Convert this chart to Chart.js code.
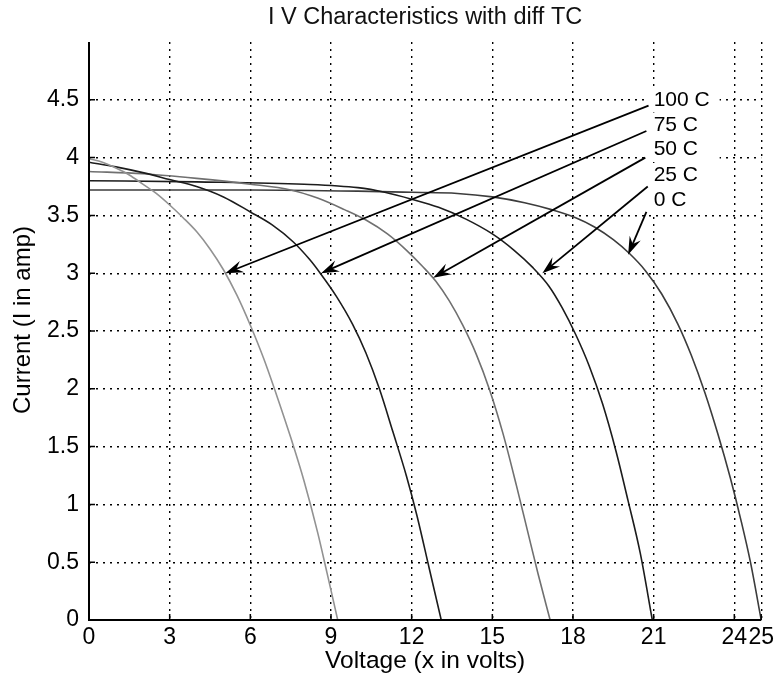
<!DOCTYPE html>
<html>
<head>
<meta charset="utf-8">
<script src="https://cdn.jsdelivr.net/npm/chart.js@4.4.0/dist/chart.umd.min.js"></script>
<style>
  html, body { margin: 0; padding: 0; background: #fff; }
</style>
</head>
<body>
<canvas id="chart_IV" width="778" height="683"></canvas>
<script>
// curve labels, same order as the arrows
var seriesLabels = ["100 C", "75 C", "50 C", "25 C", "0 C"];
var seriesColors = ["#929292", "#1c1c1c", "#707070", "#1c1c1c", "#3c3c3c"];

// voltage / current
var v100 = [0, 0.5, 1, 1.5, 2, 2.5, 3, 3.5, 4, 4.5, 5, 5.5, 6, 6.5, 7, 7.5, 8, 8.5, 8.85, 9.25];
var i100 = [3.99, 3.96, 3.91, 3.85, 3.77, 3.69, 3.59, 3.48, 3.36, 3.21, 3.03, 2.81, 2.55, 2.26, 1.93, 1.58, 1.2, 0.76, 0.41, 0];

var v75 = [0, 1, 2, 3, 4, 5, 6, 6.8, 7.6, 8.2, 8.6, 9.2, 9.8, 10.3, 10.8, 11.3, 11.8, 12.2, 12.65, 13.1];
var i75 = [3.96, 3.92, 3.87, 3.81, 3.75, 3.66, 3.53, 3.42, 3.27, 3.12, 3.0, 2.8, 2.56, 2.31, 2.0, 1.63, 1.25, 0.9, 0.45, 0];

var v50 = [0, 2, 4, 6, 7.5, 8.5, 9.5, 10.3, 11.1, 11.8, 12.4, 12.9, 13.4, 13.9, 14.4, 14.9, 15.4, 15.9, 16.3, 16.7, 17.15];
var i50 = [3.88, 3.86, 3.82, 3.77, 3.72, 3.65, 3.55, 3.46, 3.34, 3.2, 3.06, 2.93, 2.76, 2.55, 2.3, 1.99, 1.61, 1.16, 0.78, 0.4, 0];

var v25 = [0, 4, 8, 10, 11, 12, 13, 14, 15, 15.8, 16.5, 17.1, 17.6, 18.1, 18.6, 19.1, 19.6, 20.05, 20.5, 20.95];
var i25 = [3.8, 3.79, 3.77, 3.74, 3.7, 3.64, 3.57, 3.47, 3.34, 3.2, 3.05, 2.89, 2.7, 2.47, 2.2, 1.87, 1.46, 1.03, 0.58, 0];

var v0 = [0, 6, 10, 12, 13.7, 15, 16.2, 17.2, 18.1, 18.8, 19.5, 20.1, 20.7, 21.3, 21.9, 22.4, 22.9, 23.4, 23.85, 24.25, 24.6, 25.0];
var i0 = [3.72, 3.72, 3.71, 3.7, 3.69, 3.66, 3.61, 3.55, 3.48, 3.4, 3.29, 3.17, 3.02, 2.82, 2.56, 2.29, 1.97, 1.6, 1.23, 0.86, 0.5, 0];

var xTicks = [0, 3, 6, 9, 12, 15, 18, 21, 24, 25];

// arrows: from the label to the curve (volts, amps)
var arrowFromV = [20.81, 20.73, 20.69, 20.78, 20.73];
var arrowFromI = [4.45, 4.23, 4.0, 3.75, 3.53];
var arrowToV = [5.07, 8.63, 12.8, 16.86, 20.05];
var arrowToI = [3.0, 3.0, 2.96, 3.0, 3.16];
var labelV = 21.0;
var labelI = [4.5, 4.28, 4.07, 3.845, 3.63];

var chartTitle = 'I V Characteristics with diff TC';
var yTitle = 'Current (I in amp)';

var FONT = "'Liberation Sans', Arial, sans-serif";

function toPoints(vs, is) {
  var pts = [];
  for (var i = 0; i < vs.length; i++) {
    pts.push({x: vs[i], y: is[i]});
  }
  return pts;
}

var ivDecor = {
  id: 'ivDecor',
  afterDraw: function (chart) {
    var ctx = chart.ctx;
    var xs = chart.scales.x;
    var ys = chart.scales.y;
    var area = chart.chartArea;
    ctx.save();

    // axis lines
    ctx.strokeStyle = '#000';
    ctx.lineWidth = 2;
    ctx.beginPath();
    ctx.moveTo(area.left, area.top);
    ctx.lineTo(area.left, area.bottom);
    ctx.lineTo(area.right, area.bottom);
    ctx.stroke();

    // small inward tick marks
    ctx.lineWidth = 1.5;
    ctx.beginPath();
    xs.ticks.forEach(function (t) {
      var px = xs.getPixelForValue(t.value);
      ctx.moveTo(px, area.bottom);
      ctx.lineTo(px, area.bottom - 6);
    });
    ys.ticks.forEach(function (t) {
      if (t.value >= 5) return;
      var py = ys.getPixelForValue(t.value);
      ctx.moveTo(area.left, py);
      ctx.lineTo(area.left + 6, py);
    });
    ctx.stroke();

    // white boxes behind the labels
    var lx = xs.getPixelForValue(labelV);
    ctx.fillStyle = '#fff';
    for (var b = 0; b < seriesLabels.length; b++) {
      var ly = ys.getPixelForValue(labelI[b]);
      ctx.fillRect(lx - 5, ly - 12.5, 71, 25);
    }

    // arrows + labels
    ctx.fillStyle = '#000';
    ctx.font = "21px " + FONT;
    ctx.textAlign = 'left';
    ctx.textBaseline = 'middle';
    for (var k = 0; k < seriesLabels.length; k++) {
      var x1 = xs.getPixelForValue(arrowFromV[k]);
      var y1 = ys.getPixelForValue(arrowFromI[k]);
      var x2 = xs.getPixelForValue(arrowToV[k]);
      var y2 = ys.getPixelForValue(arrowToI[k]);
      var ang = Math.atan2(y2 - y1, x2 - x1);
      var len = 18, wid = 6;
      var c = Math.cos(ang), s = Math.sin(ang);
      var bx = x2 - len * c, by = y2 - len * s;

      ctx.lineWidth = 1.8;
      ctx.beginPath();
      ctx.moveTo(x1, y1);
      ctx.lineTo(x2 - 0.6 * len * c, y2 - 0.6 * len * s);
      ctx.stroke();

      ctx.beginPath();
      ctx.moveTo(x2, y2);
      ctx.lineTo(bx + wid * s, by - wid * c);
      ctx.lineTo(x2 - 0.65 * len * c, y2 - 0.65 * len * s);
      ctx.lineTo(bx - wid * s, by + wid * c);
      ctx.closePath();
      ctx.fill();

      ctx.fillText(seriesLabels[k], lx, ys.getPixelForValue(labelI[k]));
    }

    // title, centred over the plot
    ctx.font = "23.5px " + FONT;
    ctx.textAlign = 'center';
    ctx.fillStyle = '#111';
    ctx.fillText(chartTitle, (area.left + area.right) / 2, 18);

    // y axis title
    ctx.translate(23, 320);
    ctx.rotate(-Math.PI / 2);
    ctx.font = "24px " + FONT;
    ctx.fillStyle = '#000';
    ctx.fillText(yTitle, 0, 0);
    ctx.restore();
  }
};

function createIVChart() {
  var curves = [[v100, i100], [v75, i75], [v50, i50], [v25, i25], [v0, i0]];
  var datasets = [];
  for (var k = 0; k < curves.length; k++) {
    datasets.push({
      label: seriesLabels[k],
      data: toPoints(curves[k][0], curves[k][1]),
      showLine: true,
      borderColor: seriesColors[k],
      borderWidth: 1.6,
      pointRadius: 0,
      cubicInterpolationMode: 'monotone',
      fill: false
    });
  }

  new Chart(document.getElementById("chart_IV"), {
    type: 'scatter',
    data: { datasets: datasets },
    plugins: [ivDecor],
    options: {
      responsive: false,
      animation: false,
      devicePixelRatio: 1,
      layout: { padding: { left: 0, right: 12, top: 42, bottom: 0 } },
      plugins: {
        legend: { display: false },
        tooltip: { enabled: false },
        title: { display: false }
      },
      scales: {
        x: {
          type: 'linear',
          min: 0,
          max: 25,
          afterBuildTicks: function (scale) {
            scale.ticks = xTicks.map(function (v) { return {value: v}; });
          },
          afterFit: function (scale) { scale.height = 63; },
          ticks: {
            autoSkip: false,
            maxRotation: 0,
            padding: 4,
            color: '#000',
            font: { family: FONT, size: 23 },
            callback: function (v) { return String(v); }
          },
          grid: {
            color: '#000',
            lineWidth: 1.4,
            drawTicks: false
          },
          border: { display: false, dash: [2, 5] },
          title: {
            display: true,
            text: 'Voltage (x in volts)',
            color: '#000',
            font: { family: FONT, size: 24.5 },
            padding: { top: 0, bottom: 7 }
          }
        },
        y: {
          type: 'linear',
          min: 0,
          max: 5,
          afterFit: function (scale) { scale.width = 89; },
          ticks: {
            stepSize: 0.5,
            padding: 10,
            color: '#000',
            font: { family: FONT, size: 23 },
            callback: function (v) { return v >= 5 ? '' : String(v); }
          },
          grid: {
            color: function (c) { return (c.tick && c.tick.value >= 5) ? 'rgba(0,0,0,0)' : '#000'; },
            lineWidth: 1.4,
            drawTicks: false
          },
          border: { display: false, dash: [2, 5] },
          title: { display: false }
        }
      }
    }
  });
}

createIVChart();
</script>
</body>
</html>
